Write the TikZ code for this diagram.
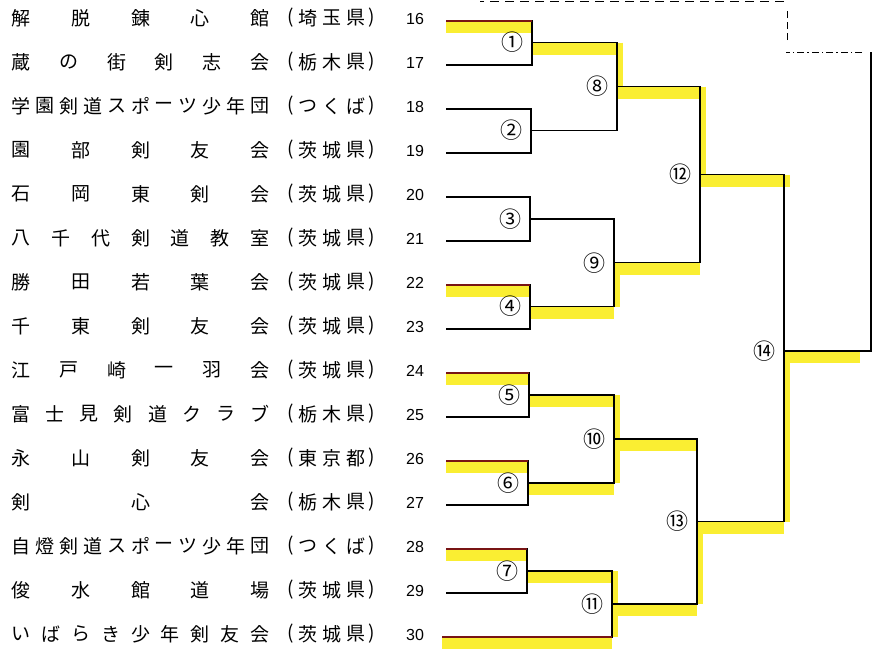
\documentclass[tikz,border=0pt]{standalone}
\usepackage{fontspec}
\newfontfamily\jpf{Noto Sans CJK JP}
\newfontfamily\numf{Liberation Sans}
\usetikzlibrary{calc}
\definecolor{hly}{RGB}{250,238,50}
\definecolor{winred}{RGB}{120,20,20}
\tikzset{
  jch/.style={font=\jpf\fontsize{19}{19}\selectfont, inner sep=0pt, anchor=center},
  numlab/.style={font=\numf\fontsize{16}{16}\selectfont, inner sep=0pt, anchor=center},
  mlab/.style={font=\jpf\fontsize{22}{22}\selectfont, inner sep=0pt, anchor=east, xshift=-8pt},
  br/.style={line width=1.1pt, black},
  win/.style={line width=1.1pt, draw=winred},
  hlh/.style={line width=12pt, draw=hly},
  hlv/.style={line width=6pt, draw=hly},
}
\def\blankmark{-}
% #1 id, #2 y (text centre), #3 number of slots, #4 list of characters
\newcommand{\teamname}[4]{%
  \foreach \ch [count=\k] in {#4} {%
    \ifx\ch\blankmark\else
      \node[jch] (#1c\k) at ({21+(\k-1)*239/(#3-1)}, #2) {\ch};
    \fi}}
% #1 id, #2 y, #3 #4 #5 characters
\newcommand{\prefname}[5]{%
  \node[jch] (#1p0) at (291,#2) {(};
  \node[jch] (#1p1) at (308,#2) {#3};
  \node[jch] (#1p2) at (332,#2) {#4};
  \node[jch] (#1p3) at (356,#2) {#5};
  \node[jch] (#1p4) at (372,#2) {)};}
\begin{document}
\begin{tikzpicture}[x=1pt,y=-1pt]
\useasboundingbox (0,0) rectangle (876,654);
\fill[white] (0,0) rectangle (876,654);

% ---------- team names ----------
\teamname{t16}{18}{5}{解,脱,錬,心,館}
\teamname{t17}{62}{6}{蔵,の,街,剣,志,会}
\teamname{t18}{106}{11}{学,園,剣,道,ス,ポ,ー,ツ,少,年,団}
\teamname{t19}{150}{5}{園,部,剣,友,会}
\teamname{t20}{194}{5}{石,岡,東,剣,会}
\teamname{t21}{238}{7}{八,千,代,剣,道,教,室}
\teamname{t22}{282}{5}{勝,田,若,葉,会}
\teamname{t23}{326}{5}{千,東,剣,友,会}
\teamname{t24}{370}{6}{江,戸,崎,一,羽,会}
\teamname{t25}{414}{8}{富,士,見,剣,道,ク,ラ,ブ}
\teamname{t26}{458}{5}{永,山,剣,友,会}
\teamname{t27}{502}{5}{剣,-,心,-,会}
\teamname{t28}{546}{11}{自,燈,剣,道,ス,ポ,ー,ツ,少,年,団}
\teamname{t29}{590}{5}{俊,水,館,道,場}
\teamname{t30}{634}{9}{い,ば,ら,き,少,年,剣,友,会}

\prefname{t16}{18}{埼}{玉}{県}
\prefname{t17}{62}{栃}{木}{県}
\prefname{t18}{106}{つ}{く}{ば}
\prefname{t19}{150}{茨}{城}{県}
\prefname{t20}{194}{茨}{城}{県}
\prefname{t21}{238}{茨}{城}{県}
\prefname{t22}{282}{茨}{城}{県}
\prefname{t23}{326}{茨}{城}{県}
\prefname{t24}{370}{茨}{城}{県}
\prefname{t25}{414}{栃}{木}{県}
\prefname{t26}{458}{東}{京}{都}
\prefname{t27}{502}{栃}{木}{県}
\prefname{t28}{546}{つ}{く}{ば}
\prefname{t29}{590}{茨}{城}{県}
\prefname{t30}{634}{茨}{城}{県}

\foreach \n [count=\k from 0] in {16,...,30} {
  \node[numlab] (n\n) at (415, {19+44*\k}) {\n};
}

% ---------- bracket coordinates ----------
\foreach \n [count=\k from 0] in {16,...,29} {
  \coordinate (L\n) at (446, {21+44*\k});
}
\coordinate (L30) at (442, 637);

\coordinate (J1) at (532, 42.5);
\coordinate (J2) at (531, 130.5);
\coordinate (J3) at (530, 219);
\coordinate (J4) at (530, 306.5);
\coordinate (J5) at (529, 395);
\coordinate (J6) at (528, 483);
\coordinate (J7) at (527, 571);
\coordinate (J8) at (617, 86.5);
\coordinate (J9) at (614, 262.75);
\coordinate (J10) at (614, 439);
\coordinate (J11) at (612, 604);
\coordinate (J12) at (700, 174.6);
\coordinate (J13) at (697, 521.5);
\coordinate (J14) at (784, 351);
\coordinate (F) at (871, 52);
\coordinate (D1) at (862, 52);
\coordinate (D2) at (786, 52);
\coordinate (D3) at (787, 40);
\coordinate (D4) at (787, 8);
\coordinate (D5) at (784, 1);
\coordinate (D6) at (480, 1);
\coordinate (HE) at (860, 351);

% ---------- highlights ----------
\begin{scope}
\foreach \a/\b in {L16/J1, J1/J8, J8/J12, L22/J4, J4/J9, J9/J12, L24/J5, J5/J10,
                   L26/J6, J6/J10, J10/J13, L28/J7, J7/J11, L30/J11, J11/J13, J13/J14} {
  \draw[hlh] ([yshift=-6pt]\a) -- ([yshift=-6pt]\a -| \b);
}
\draw[hlh] ([yshift=-6pt]J12) -- ([yshift=-6pt,xshift=6pt]J12 -| J14);
\draw[hlh] ([yshift=-6pt]J14) -- ([yshift=-6pt]HE);
\draw[hlv] ([xshift=3pt]J8 |- J1) -- ([xshift=3pt]J8);
\draw[hlv] ([xshift=3pt]J12 |- J8) -- ([xshift=3pt]J12);
\draw[hlv] ([xshift=3pt]J9) -- ([xshift=3pt]J9 |- J4);
\draw[hlv] ([xshift=3pt]J10 |- J5) -- ([xshift=3pt]J10 |- J6);
\draw[hlv] ([xshift=3pt]J11 |- J7) -- ([xshift=3pt]J11 |- L30);
\draw[hlv] ([xshift=3pt]J13) -- ([xshift=3pt]J13 |- J11);
\draw[hlv] ([xshift=3pt]J14) -- ([xshift=3pt]J14 |- J13);
\end{scope}

% ---------- bracket lines ----------
\draw[br] (L16) -| (J1) |- (L17);
\draw[br] (L18) -| (J2) |- (L19);
\draw[br] (L20) -| (J3) |- (L21);
\draw[br] (L22) -| (J4) |- (L23);
\draw[br] (L24) -| (J5) |- (L25);
\draw[br] (L26) -| (J6) |- (L27);
\draw[br] (L28) -| (J7) |- (L29);
\draw[br] (J1) -| (J8) |- (J2);
\draw[br] (J3) -| (J9) |- (J4);
\draw[br] (J5) -| (J10) |- (J6);
\draw[br] (J7) -| (J11) |- (L30);
\draw[br] (J8) -| (J12) |- (J9);
\draw[br] (J10) -| (J13) |- (J11);
\draw[br] (J12) -| (J14) |- (J13);
\draw[br] (J14) -| (F);

% winners' leaf lines marked in red
\foreach \a/\b in {L16/J1, L22/J4, L24/J5, L26/J6, L28/J7, L30/J11} {
  \draw[win] (\a) -- (\a -| \b);
}

% dashed frame at the top right
\draw[line width=0.9pt, dash pattern=on 7pt off 3pt on 1.5pt off 3pt] (D1) -- (D2);
\draw[line width=0.9pt, dash pattern=on 7pt off 4pt] (D3) -- (D4);
\draw[line width=0.9pt, dash pattern=on 9pt off 6pt] (D5) -- (D6);

% ---------- match numbers ----------
\node[mlab] (m1) at (J1) {①};
\node[mlab] (m2) at (J2) {②};
\node[mlab] (m3) at (J3) {③};
\node[mlab] (m4) at (J4) {④};
\node[mlab] (m5) at (J5) {⑤};
\node[mlab] (m6) at (J6) {⑥};
\node[mlab] (m7) at (J7) {⑦};
\node[mlab] (m8) at (J8) {⑧};
\node[mlab] (m9) at (J9) {⑨};
\node[mlab] (m10) at (J10) {⑩};
\node[mlab] (m11) at (J11) {⑪};
\node[mlab] (m12) at (J12) {⑫};
\node[mlab] (m13) at (J13) {⑬};
\node[mlab] (m14) at (J14) {⑭};
\end{tikzpicture}
\end{document}
